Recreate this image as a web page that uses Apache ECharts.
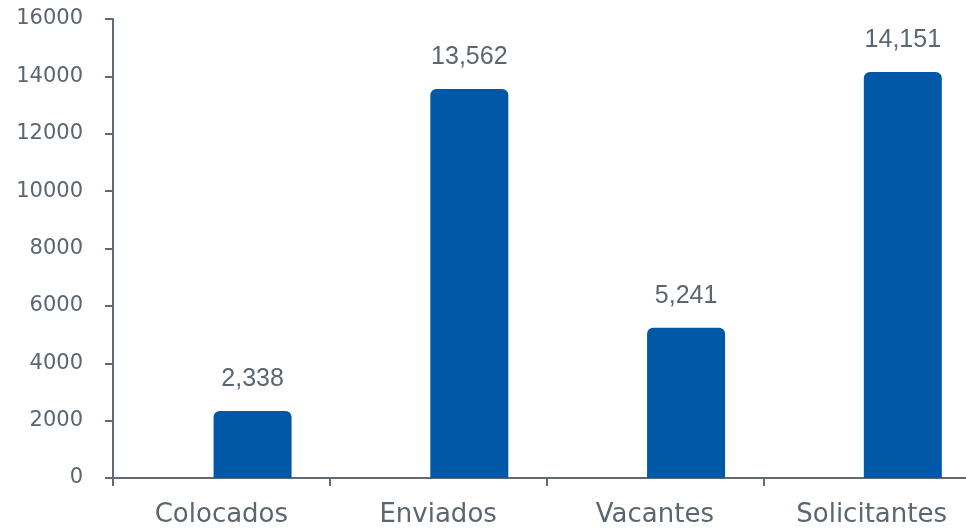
<!DOCTYPE html>
<html>
<head>
<meta charset="utf-8">
<script src="https://cdn.jsdelivr.net/npm/echarts@6/dist/echarts.min.js"></script>
<style>html,body{margin:0;padding:0;background:#fff;overflow:hidden;width:966px;height:530px;}#c{width:980px;height:530px;}</style>
</head>
<body>
<div id="c"></div>
<script>
const categories = ['Colocados', 'Enviados', 'Vacantes', 'Solicitantes'];
const spacerValues = [0, 0, 0, 0];
const values = [2338, 13562, 5241, 14151];
const yTicks = { min: 0, max: 16000, interval: 2000 };

const axisColor = '#5f6a75';
const textColor = '#5b6670';
const barColor = '#0058a6';

const chart = echarts.init(document.getElementById('c'), null, { renderer: 'canvas' });
chart.setOption({
  animation: false,
  backgroundColor: '#fff',
  grid: { left: 113, top: 19, right: 0, bottom: 52, containLabel: false },
  xAxis: {
    type: 'category',
    data: categories,
    axisLine: { show: true, lineStyle: { color: axisColor, width: 2 } },
    axisTick: { show: true, length: 8, lineStyle: { color: axisColor, width: 2 } },
    axisLabel: { color: textColor, fontFamily: 'DejaVu Sans', fontSize: 26, margin: 24 }
  },
  yAxis: {
    type: 'value',
    min: yTicks.min, max: yTicks.max, interval: yTicks.interval,
    splitLine: { show: false },
    axisLine: { show: true, lineStyle: { color: axisColor, width: 2 } },
    axisTick: { show: true, length: 8, lineStyle: { color: axisColor, width: 2 } },
    axisLabel: { color: textColor, fontFamily: 'DejaVu Sans', fontSize: 21, margin: 30, padding: [3, 0, 0, 0], formatter: v => String(v) }
  },
  series: [
    {
      type: 'bar',
      data: spacerValues,
      barWidth: 78,
      itemStyle: { color: 'rgba(0,0,0,0)' },
      silent: true
    },
    {
      type: 'bar',
      data: values,
      barWidth: 78,
      barGap: '-20%',
      itemStyle: { color: barColor, borderRadius: [6, 6, 0, 0] },
      label: {
        show: true,
        position: 'top',
        distance: 19,
        color: textColor,
        fontFamily: 'Liberation Sans',
        fontSize: 25,
        formatter: p => p.value.toLocaleString('en-US')
      }
    }
  ]
});
</script>
</body>
</html>
